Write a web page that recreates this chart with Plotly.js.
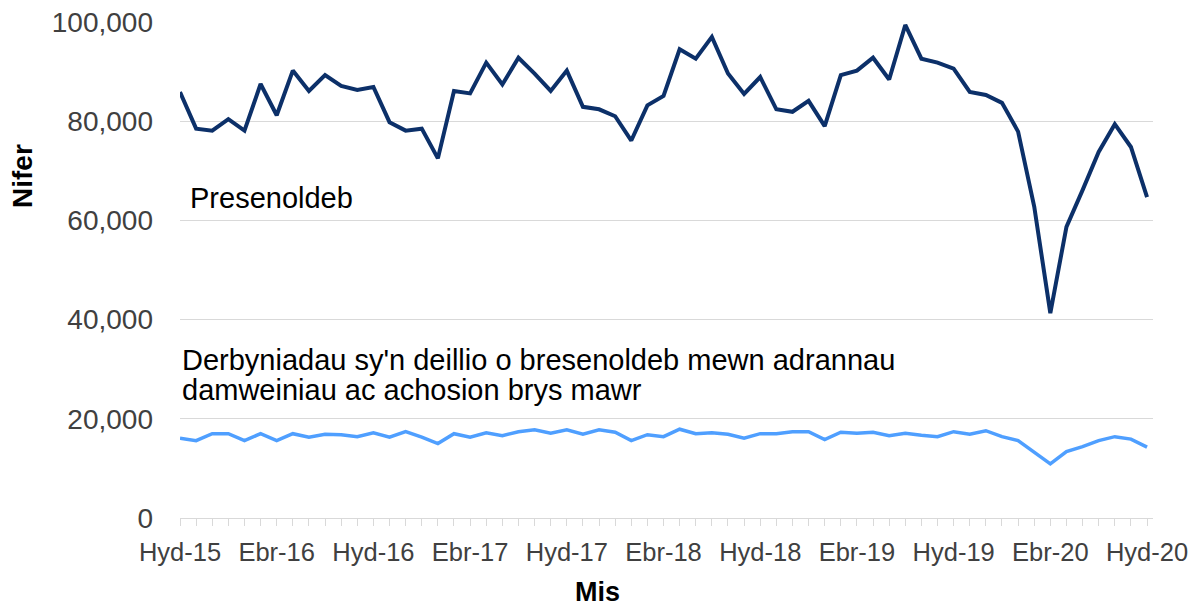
<!DOCTYPE html>
<html>
<head>
<meta charset="utf-8">
<script src="https://cdn.plot.ly/plotly-3.0.1.min.js"></script>
<style>
  html, body { margin: 0; padding: 0; background: #ffffff; }
  #chart { width: 1195px; height: 606px; }
</style>
</head>
<body>
<div id="chart"></div>
<script>
// Welsh month abbreviations, Oct 2015 .. Oct 2020
const months = [
  "Hyd-15","Tach-15","Rhag-15",
  "Ion-16","Chwef-16","Maw-16","Ebr-16","Mai-16","Meh-16","Gorff-16","Awst-16","Medi-16","Hyd-16","Tach-16","Rhag-16",
  "Ion-17","Chwef-17","Maw-17","Ebr-17","Mai-17","Meh-17","Gorff-17","Awst-17","Medi-17","Hyd-17","Tach-17","Rhag-17",
  "Ion-18","Chwef-18","Maw-18","Ebr-18","Mai-18","Meh-18","Gorff-18","Awst-18","Medi-18","Hyd-18","Tach-18","Rhag-18",
  "Ion-19","Chwef-19","Maw-19","Ebr-19","Mai-19","Meh-19","Gorff-19","Awst-19","Medi-19","Hyd-19","Tach-19","Rhag-19",
  "Ion-20","Chwef-20","Maw-20","Ebr-20","Mai-20","Meh-20","Gorff-20","Awst-20","Medi-20","Hyd-20"
];

// Attendances (Presenoldeb)
const attendances = [
  85900, 78500, 78100, 80400, 78100, 87500, 81200, 90200, 86100, 89300,
  87100, 86300, 86900, 79800, 78100, 78500, 72500, 86100, 85600, 91800,
  87400, 92800, 89600, 86100, 90200, 82900, 82400, 81000, 76100, 83200,
  85100, 94500, 92600, 97000, 89600, 85500, 88900, 82400, 81900, 84100,
  79000, 89300, 90200, 92800, 88400, 99400, 92600, 91800, 90600, 85900,
  85300, 83700, 77900, 62800, 41300, 58700, 66100, 73800, 79400, 74800,
  64700
];

// Admissions resulting from attendance at major A&E departments
const admissions = [
  16100, 15600, 17000, 17000, 15600, 17000, 15600, 17000, 16300, 16900,
  16800, 16400, 17200, 16300, 17400, 16300, 15000, 17000, 16300, 17200,
  16600, 17400, 17800, 17100, 17800, 16900, 17800, 17300, 15600, 16800,
  16400, 17900, 17000, 17200, 16900, 16100, 17000, 17000, 17400, 17400,
  15800, 17300, 17100, 17300, 16600, 17100, 16700, 16400, 17400, 16900,
  17600, 16400, 15600, 13300, 10900, 13400, 14400, 15600, 16400, 15900,
  14300
];

const shownTickLabels = ["Hyd-15","Ebr-16","Hyd-16","Ebr-17","Hyd-17","Ebr-18","Hyd-18","Ebr-19","Hyd-19","Ebr-20","Hyd-20"];
const yTickVals = [0, 20000, 40000, 60000, 80000, 100000];
const yTickText = ["0", "20,000", "40,000", "60,000", "80,000", "100,000"];

const seriesLabelA = "Presenoldeb";
const seriesLabelB1 = "Derbyniadau sy'n deillio o bresenoldeb mewn adrannau";
const seriesLabelB2 = "damweiniau ac achosion brys mawr";

const tickText = months.map(m => shownTickLabels.includes(m) ? m : "");

const FONT = "Liberation Sans, Arial, sans-serif";

const traces = [
  {
    x: months, y: attendances, type: "scatter", mode: "lines",
    line: { color: "#0c3069", width: 4 },
    name: seriesLabelA, hoverinfo: "skip"
  },
  {
    x: months, y: admissions, type: "scatter", mode: "lines",
    line: { color: "#4f9fff", width: 3.5 },
    name: seriesLabelB1, hoverinfo: "skip"
  }
];

const L = 180, R = 42, T = 22, B = 88;
const plotW = 1195 - L - R, plotH = 606 - T - B;
const px2x = p => (p - L) / plotW;
const px2y = p => (606 - B - p) / plotH;

const layout = {
  width: 1195, height: 606,
  margin: { l: L, r: R, t: T, b: B, pad: 0 },
  paper_bgcolor: "#ffffff", plot_bgcolor: "#ffffff",
  showlegend: false,
  font: { family: FONT, color: "#404040" },
  xaxis: {
    type: "category",
    range: [0, 60.37],
    tickmode: "array", tickvals: months, ticktext: tickText,
    tickangle: 0,
    ticks: "outside", ticklen: 7, tickwidth: 1, tickcolor: "#d9d9d9",
    showline: true, linecolor: "#d9d9d9", linewidth: 1,
    showgrid: false, zeroline: false,
    tickfont: { family: FONT, size: 25.5, color: "#404040" },
    ticklabelstandoff: 4,
    fixedrange: true
  },
  yaxis: {
    range: [0, 100000],
    tickmode: "array", tickvals: yTickVals, ticktext: yTickText,
    showgrid: true, gridcolor: "#d9d9d9", gridwidth: 1,
    zeroline: false, showline: false, ticks: "",
    tickfont: { family: FONT, size: 28, color: "#404040" },
    ticklabelstandoff: 26,
    fixedrange: true
  },
  annotations: [
    { text: "<b>Nifer</b>", textangle: -90, xref: "paper", yref: "paper",
      x: px2x(23), y: px2y(176), xanchor: "center", yanchor: "middle",
      showarrow: false, font: { family: FONT, size: 28, color: "#000000" } },
    { text: "<b>Mis</b>", xref: "paper", yref: "paper",
      x: px2x(597.5), y: px2y(592), xanchor: "center", yanchor: "middle",
      showarrow: false, font: { family: FONT, size: 27, color: "#000000" } },
    { text: seriesLabelA, xref: "paper", yref: "paper",
      x: px2x(188), y: px2y(198), xanchor: "left", yanchor: "middle",
      showarrow: false, font: { family: FONT, size: 29, color: "#000000" } },
    { text: seriesLabelB1, xref: "paper", yref: "paper",
      x: px2x(180), y: px2y(360), xanchor: "left", yanchor: "middle",
      showarrow: false, font: { family: FONT, size: 29, color: "#000000" } },
    { text: seriesLabelB2, xref: "paper", yref: "paper",
      x: px2x(180), y: px2y(390), xanchor: "left", yanchor: "middle",
      showarrow: false, font: { family: FONT, size: 29, color: "#000000" } }
  ]
};

Plotly.newPlot("chart", traces, layout, { staticPlot: true, displayModeBar: false });
</script>
</body>
</html>
